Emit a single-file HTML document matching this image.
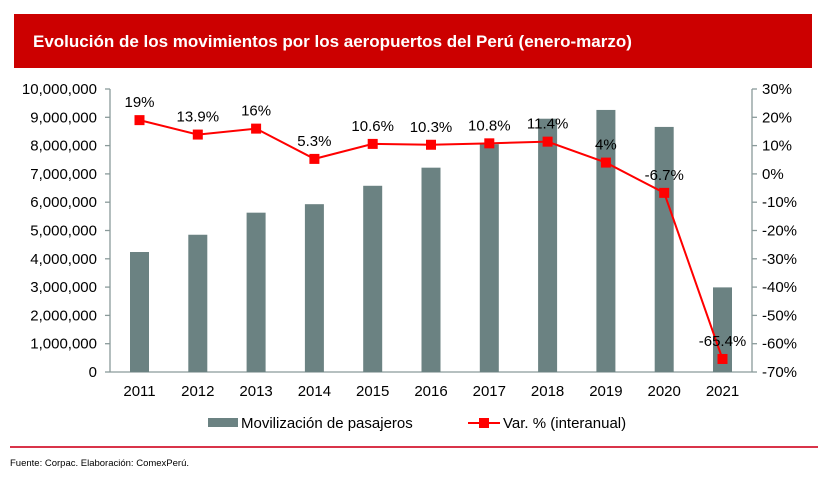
<!DOCTYPE html>
<html><head><meta charset="utf-8"><style>
body{margin:0;width:828px;height:479px;background:#fff;overflow:hidden;font-family:"Liberation Sans",Arial,sans-serif}
</style></head><body>
<svg width="828" height="479" xmlns="http://www.w3.org/2000/svg" font-family="Liberation Sans, Arial, sans-serif">
<rect x="14" y="14" width="798" height="54" fill="#cc0000"/>
<text x="33" y="47" fill="#fff" font-size="17" font-weight="bold">Evolución de los movimientos por los aeropuertos del Perú (enero-marzo)</text>
<g stroke="#8a9a9a" stroke-width="1.3" fill="none">
<line x1="110" y1="89" x2="110" y2="372"/>
<line x1="110" y1="372" x2="752" y2="372"/>
<line x1="752" y1="89" x2="752" y2="372"/>
</g>
<g stroke="#8a9a9a" stroke-width="1.3" id="ticks"></g>
<g font-size="15" fill="#000" text-anchor="end" id="ly"></g>
<g font-size="15" fill="#000" text-anchor="start" id="ry"></g>
<g fill="#6b8282" id="bars"></g>
<g font-size="15" fill="#000" text-anchor="middle" id="xl"></g>
<polyline id="ln" fill="none" stroke="#ff0000" stroke-width="2"/>
<g fill="#ff0000" id="mk"></g>
<g font-size="15" fill="#000" text-anchor="middle" id="lbl"></g>
<rect x="208" y="418" width="30" height="9" fill="#6b8282"/>
<text x="241" y="428" font-size="15">Movilización de pasajeros</text>
<line x1="468" y1="423" x2="500" y2="423" stroke="#ff0000" stroke-width="2"/>
<rect x="479" y="418" width="10" height="10" fill="#ff0000"/>
<text x="503" y="428" font-size="15">Var. % (interanual)</text>
<line x1="10" y1="447" x2="818" y2="447" stroke="#d9344a" stroke-width="2"/>
<text x="10" y="466" font-size="9.5">Fuente: Corpac. Elaboración: ComexPerú.</text>
</svg>
<script>
const ns="http://www.w3.org/2000/svg";
function el(p,t,a,txt){const e=document.createElementNS(ns,t);for(const k in a)e.setAttribute(k,a[k]);if(txt!==undefined)e.textContent=txt;document.getElementById(p).appendChild(e);}
const y0=372,h=283;
for(let i=0;i<=10;i++){const y=y0-i*h/10;
el('ticks','line',{x1:105,y1:y,x2:110,y2:y});el('ticks','line',{x1:752,y1:y,x2:757,y2:y});
el('ly','text',{x:97,y:y+5},(i*1000000).toLocaleString('en-US'));
el('ry','text',{x:762,y:y+5},((i-7)*10)+'%');}
const bars=[4.24,4.85,5.63,5.93,6.58,7.22,8.05,8.95,9.26,8.66,2.99];
const pct=[19,13.9,16,5.3,10.6,10.3,10.8,11.4,4,-6.7,-65.4];
const labs=['19%','13.9%','16%','5.3%','10.6%','10.3%','10.8%','11.4%','4%','-6.7%','-65.4%'];
let pts=[];
for(let i=0;i<11;i++){const cx=139.5+i*58.3;
const bh=bars[i]*h/10;el('bars','rect',{x:cx-9.5,y:y0-bh,width:19,height:bh});
el('xl','text',{x:cx,y:396},2011+i);
const py=y0-(pct[i]+70)*h/100;pts.push(cx+','+py);
el('mk','rect',{x:cx-5,y:py-5,width:10,height:10});
el('lbl','text',{x:cx+(i==10?0:0),y:py-13},labs[i]);}
document.getElementById('ln').setAttribute('points',pts.join(' '));
</script>
</body></html>
